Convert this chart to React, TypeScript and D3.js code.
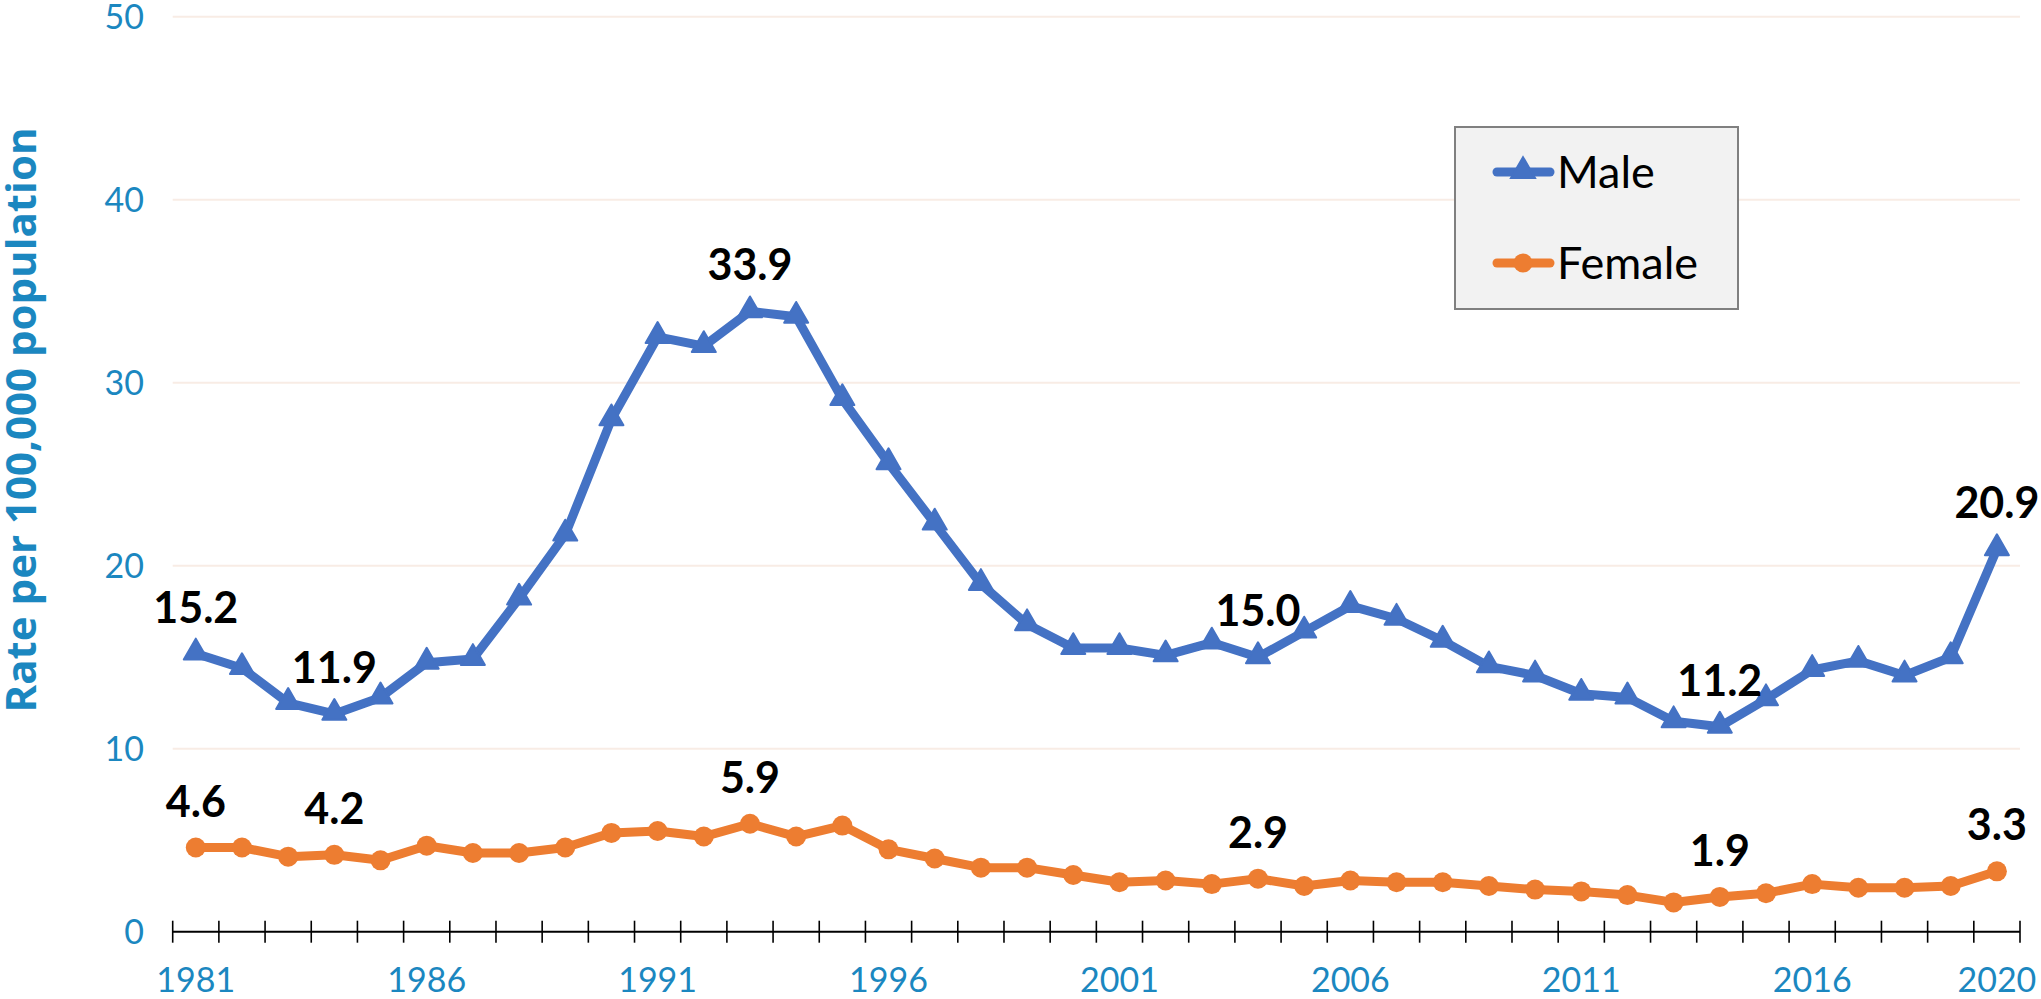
import React, { useEffect, useRef } from 'react';
import * as d3 from 'd3';

const years = d3.range(1981, 2021).map(String);

const maleRates = [
  15.2, 14.4, 12.5, 11.9, 12.8, 14.7, 14.9, 18.2, 21.7, 28.0,
  32.5, 32.0, 33.9, 33.6, 29.1, 25.6, 22.3, 19.0, 16.8, 15.5,
  15.5, 15.1, 15.8, 15.0, 16.4, 17.8, 17.1, 15.9, 14.5, 14.0,
  13.0, 12.8, 11.5, 11.2, 12.7, 14.3, 14.8, 14.0, 15.0, 20.9,
];

const femaleRates = [
  4.6, 4.6, 4.1, 4.2, 3.9, 4.7, 4.3, 4.3, 4.6, 5.4,
  5.5, 5.2, 5.9, 5.2, 5.8, 4.5, 4.0, 3.5, 3.5, 3.1,
  2.7, 2.8, 2.6, 2.9, 2.5, 2.8, 2.7, 2.7, 2.5, 2.3,
  2.2, 2.0, 1.6, 1.9, 2.1, 2.6, 2.4, 2.4, 2.5, 3.3,
];

// years that get a value label on both lines
const labelledYears = ['1981', '1984', '1993', '2004', '2014', '2020'];
const xTickLabels = ['1981', '1986', '1991', '1996', '2001', '2006', '2011', '2016', '2020'];
const yTicks = [0, 10, 20, 30, 40, 50];

const MALE = '#4472C4';
const FEMALE = '#ED7D31';
const AXIS_BLUE = '#1b87c0';
const FONT = 'Lato, "Open Sans", sans-serif';

const App = () => {
  const chartRef = useRef<HTMLDivElement>(null);

  useEffect(() => {
    const width = 2041;
    const height = 999;
    const plot = { left: 172.7, right: 2020, top: 16.7, bottom: 931.7 };

    const root = d3.select(chartRef.current);
    root.selectAll('*').remove();

    const svg = root
      .append('svg')
      .attr('width', width)
      .attr('height', height)
      .style('display', 'block')
      .style('background', '#fff');

    const xScale = d3.scaleBand().domain(years).range([plot.left, plot.right]).padding(0);
    const yScale = d3.scaleLinear().domain([0, 50]).range([plot.bottom, plot.top]);
    const cx = (yr: string) => (xScale(yr) as number) + xScale.bandwidth() / 2;

    // gridlines
    svg.append('g')
      .selectAll('line')
      .data(yTicks.filter((t) => t > 0))
      .enter()
      .append('line')
      .attr('x1', plot.left)
      .attr('x2', plot.right)
      .attr('y1', (d) => yScale(d))
      .attr('y2', (d) => yScale(d))
      .attr('stroke', '#f8ece5')
      .attr('stroke-width', 2);

    // y tick labels
    svg.append('g')
      .selectAll('text')
      .data(yTicks)
      .enter()
      .append('text')
      .attr('x', 144)
      .attr('y', (d) => yScale(d))
      .attr('dy', '0.36em')
      .attr('text-anchor', 'end')
      .attr('font-family', FONT)
      .attr('font-size', 34)
      .attr('fill', AXIS_BLUE)
      .text((d) => d);

    // y axis title
    svg.append('text')
      .attr('transform', `translate(36, 420) rotate(-90)`)
      .attr('text-anchor', 'middle')
      .attr('font-family', '"Open Sans", Lato, sans-serif')
      .attr('font-weight', 700)
      .attr('font-size', 42)
      .attr('fill', AXIS_BLUE)
      .text('Rate per 100,000 population');

    // x axis line + category ticks
    const axis = svg.append('g');
    axis.append('line')
      .attr('x1', plot.left)
      .attr('x2', plot.right)
      .attr('y1', plot.bottom)
      .attr('y2', plot.bottom)
      .attr('stroke', '#000')
      .attr('stroke-width', 2);

    const boundaries = years.map((y) => xScale(y) as number).concat([plot.right]);
    axis.selectAll('line.tick')
      .data(boundaries)
      .enter()
      .append('line')
      .attr('class', 'tick')
      .attr('x1', (d) => d)
      .attr('x2', (d) => d)
      .attr('y1', plot.bottom - 11)
      .attr('y2', plot.bottom + 11)
      .attr('stroke', '#000')
      .attr('stroke-width', 1.6);

    axis.selectAll('text')
      .data(xTickLabels)
      .enter()
      .append('text')
      .attr('x', (d) => cx(d))
      .attr('y', 992)
      .attr('text-anchor', 'middle')
      .attr('font-family', FONT)
      .attr('font-size', 34)
      .attr('fill', AXIS_BLUE)
      .text((d) => d);

    const lineGen = d3
      .line<number>()
      .x((_, i) => cx(years[i]))
      .y((d) => yScale(d));

    const series = [
      { name: 'Male', values: maleRates, color: MALE, marker: 'triangle' },
      { name: 'Female', values: femaleRates, color: FEMALE, marker: 'circle' },
    ];

    const triangle = d3.symbol().type(d3.symbolTriangle).size(250);

    series.forEach((s) => {
      const g = svg.append('g');
      g.append('path')
        .datum(s.values)
        .attr('d', lineGen)
        .attr('fill', 'none')
        .attr('stroke', s.color)
        .attr('stroke-width', 9)
        .attr('stroke-linejoin', 'round')
        .attr('stroke-linecap', 'round');

      if (s.marker === 'circle') {
        g.selectAll('circle')
          .data(s.values)
          .enter()
          .append('circle')
          .attr('cx', (_, i) => cx(years[i]))
          .attr('cy', (d) => yScale(d))
          .attr('r', 10)
          .attr('fill', s.color);
      } else {
        g.selectAll('path.mk')
          .data(s.values)
          .enter()
          .append('path')
          .attr('class', 'mk')
          .attr('d', triangle)
          .attr('transform', (d, i) => `translate(${cx(years[i])}, ${yScale(d) - 1})`)
          .attr('fill', s.color)
          .attr('stroke', s.color)
          .attr('stroke-width', 2)
          .attr('stroke-linejoin', 'round');
      }

      // value labels
      g.selectAll('text')
        .data(s.values.map((v, i) => ({ v, yr: years[i] })).filter((d) => labelledYears.includes(d.yr)))
        .enter()
        .append('text')
        .attr('x', (d) => cx(d.yr))
        .attr('y', (d) => yScale(d.v) - 31)
        .attr('text-anchor', 'middle')
        .attr('font-family', FONT)
        .attr('font-weight', 700)
        .attr('font-size', 43)
        .attr('fill', '#000')
        .text((d) => d.v.toFixed(1));
    });

    // legend
    const legend = svg.append('g');
    legend.append('rect')
      .attr('x', 1455)
      .attr('y', 127)
      .attr('width', 283)
      .attr('height', 182)
      .attr('fill', '#f2f2f2')
      .attr('stroke', '#808080')
      .attr('stroke-width', 2);

    series.forEach((s, i) => {
      const ly = 172 + i * 91;
      legend.append('line')
        .attr('x1', 1497)
        .attr('x2', 1550)
        .attr('y1', ly)
        .attr('y2', ly)
        .attr('stroke', s.color)
        .attr('stroke-width', 9)
        .attr('stroke-linecap', 'round');
      if (s.marker === 'circle') {
        legend.append('circle').attr('cx', 1523).attr('cy', ly).attr('r', 9.5).attr('fill', s.color);
      } else {
        legend.append('path')
          .attr('d', triangle)
          .attr('transform', `translate(1523, ${ly - 1})`)
          .attr('fill', s.color)
          .attr('stroke', s.color)
          .attr('stroke-width', 2);
      }
      legend.append('text')
        .attr('x', 1557)
        .attr('y', ly + 16)
        .attr('font-family', FONT)
        .attr('font-size', 45)
        .attr('fill', '#000')
        .text(s.name);
    });
  }, []);

  return <div ref={chartRef} style={{ position: 'absolute', left: 0, top: 0 }} />;
};

export default App;
